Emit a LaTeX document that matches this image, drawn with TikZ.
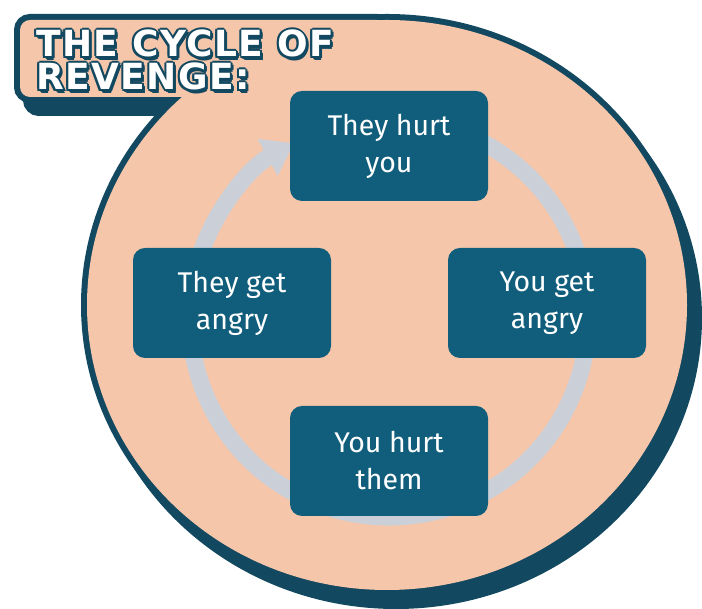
\documentclass[tikz,border=0pt]{standalone}
\usepackage{fontspec}
\setmainfont{Fira Sans}
\newfontfamily\titlefont[LetterSpace=4]{DejaVu Sans}
\usetikzlibrary{arrows.meta,calc}

\definecolor{bubble}{HTML}{F6C6AA}
\definecolor{bubbleedge}{HTML}{124860}
\definecolor{cyclebox}{HTML}{115E7C}
\definecolor{ringgray}{HTML}{CBD0D8}

\begin{document}
\begin{tikzpicture}[x=1pt, y=1pt,
        box/.style={rounded corners=12pt, minimum width=198pt, minimum height=110pt,
                    align=center, fill=cyclebox, text=white, inner sep=0pt,
                    font=\fontsize{28.5}{37}\selectfont},
        ring/.style={line width=17pt, draw=ringgray,
                     -{Triangle[length=30pt, width=40pt]}},
        edge/.style={bubbleedge, line width=12pt},
        title/.style={anchor=north west, align=left, inner sep=0pt,
                      font=\titlefont\bfseries\fontsize{36}{33}\selectfont}
    ]
        \useasboundingbox (0,0) rectangle (702,609);

        % shadow of the bubble
        \begin{scope}[shift={(9,-13)}]
            \filldraw[edge] (387,304) ellipse[x radius=300, y radius=285];
            \filldraw[edge, rounded corners=10pt] (387,589) -- (20,589) -- (20,512) -- (387,512) -- cycle;
        \end{scope}

        % bubble: outline first, fill on top
        \draw[edge] (387,304) ellipse[x radius=300, y radius=285];
        \draw[edge, rounded corners=10pt] (387,589) -- (20,589) -- (20,512) -- (387,512) -- cycle;
        \fill[bubble] (387,304) ellipse[x radius=300, y radius=285];
        \fill[bubble, rounded corners=10pt] (387,589) -- (20,589) -- (20,512) -- (387,512) -- cycle;

        % title
        \foreach \dx/\dy [count=\k] in {-2/0, 2/0, 0/2, 0/-2, -1.5/1.5, 1.5/1.5, -1.5/-1.5, 1.5/-1.5, 1/-3, 2.5/-3.5, 3/-2}
            \node[title, text=bubbleedge] (shade\k) at ([shift={(\dx,\dy)}]36,579) {THE CYCLE OF\\REVENGE:};
        \node[title, text=white] (title) at (36,579) {THE CYCLE OF\\REVENGE:};

        % the cycle
        \coordinate (hub) at (389,291);
        \draw[ring] ([shift={(70:199)}]hub) arc[start angle=70, end angle=-241.5, radius=199];

        \node[box] (theyhurt) at (389,463) {They hurt\\you};
        \node[box] (yougetangry) at (547,306) {You get\\angry};
        \node[box] (youhurt) at (389,148) {You hurt\\them};
        \node[box] (theygetangry) at (232,306) {They get\\angry};
    \end{tikzpicture}
\end{document}
